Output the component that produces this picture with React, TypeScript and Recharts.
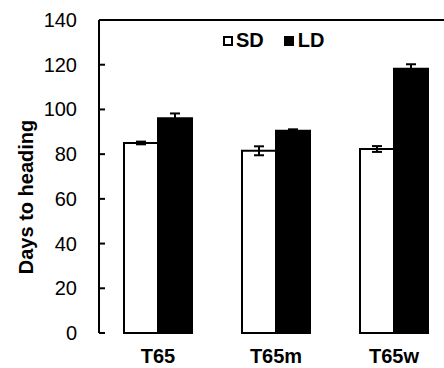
import { BarChart, Bar, XAxis, YAxis, ErrorBar, Legend, ReferenceLine } from "recharts";

const categories = ["T65", "T65m", "T65w"];
const sdValues = [85, 81.5, 82.3];
const sdErrors = [0.6, 2, 1.3];
const ldValues = [96, 90.5, 118.2];
const ldErrors = [2.2, 0.6, 2];
const yTicks = [0, 20, 40, 60, 80, 100, 120, 140];

const data = categories.map((name, i) => ({
  name,
  sd: sdValues[i],
  sdErr: sdErrors[i],
  ld: ldValues[i],
  ldErr: ldErrors[i],
}));

// y tick: label on the left, short tick line pointing into the plot
const YTick = (props: any) => {
  const { x, y, payload } = props;
  return (
    <g>
      <line x1={x + 22} x2={x + 28} y1={y} y2={y} stroke="#000" strokeWidth={2} />
      <text x={x} y={y} dy={7} textAnchor="end" fontSize={20} fill="#000">
        {payload.value}
      </text>
    </g>
  );
};

const LegendBox = () => (
  <div
    style={{
      display: "flex",
      alignItems: "center",
      fontWeight: "bold",
      fontSize: 20,
      color: "#000",
      whiteSpace: "nowrap",
      width: 120,
    }}
  >
    <span style={{ width: 10, height: 10, border: "2px solid #000", background: "#fff", boxSizing: "border-box" }} />
    <span style={{ marginLeft: 3 }}>SD</span>
    <span style={{ width: 10, height: 10, background: "#000", marginLeft: 20 }} />
    <span style={{ marginLeft: 4 }}>LD</span>
  </div>
);

export default function App() {
  return (
    <div
      style={{
        position: "absolute",
        left: 0,
        top: 0,
        width: 444,
        height: 368,
        overflow: "hidden",
        background: "#fff",
        fontFamily: "'Liberation Sans', Arial, sans-serif",
      }}
    >
      <BarChart
        width={470}
        height={368}
        data={data}
        margin={{ top: 20, right: 17, bottom: 0, left: 0 }}
        barCategoryGap={25}
        barGap={0}
      >
        <XAxis
          xAxisId="frame"
          type="number"
          domain={[0, 3]}
          ticks={[0, 1, 2, 3]}
          tick={false}
          height={0}
          axisLine={{ stroke: "#000", strokeWidth: 2 }}
          tickLine={{ stroke: "#000", strokeWidth: 2 }}
          tickSize={5}
        />
        <XAxis
          dataKey="name"
          axisLine={false}
          tickLine={false}
          tickSize={0}
          tickMargin={16}
          height={35}
          tick={{ fontSize: 20, fontWeight: "bold", fill: "#000" }}
        />
        <YAxis
          domain={[0, 140]}
          ticks={yTicks}
          width={99}
          tickSize={0}
          tickMargin={22}
          tickLine={false}
          axisLine={{ stroke: "#000", strokeWidth: 2 }}
          tick={<YTick />}
          label={{
            content: () => (
              <text
                transform="translate(26,197) rotate(-90)"
                textAnchor="middle"
                dominantBaseline="central"
                fontSize={20}
                fontWeight="bold"
                fill="#000"
              >
                Days to heading
              </text>
            ),
          }}
        />
        <ReferenceLine y={140} stroke="#000" strokeWidth={2} />
        <Legend
          verticalAlign="top"
          content={<LegendBox />}
          wrapperStyle={{ position: "absolute", top: 29, left: 223, width: 0, height: 0, overflow: "visible" }}
        />
        <Bar dataKey="sd" name="SD" fill="#fff" stroke="#000" strokeWidth={2} isAnimationActive={false}>
          <ErrorBar dataKey="sdErr" width={5} stroke="#000" strokeWidth={2} />
        </Bar>
        <Bar dataKey="ld" name="LD" fill="#000" stroke="#000" strokeWidth={2} isAnimationActive={false}>
          <ErrorBar dataKey="ldErr" width={5} stroke="#000" strokeWidth={2} />
        </Bar>
      </BarChart>
    </div>
  );
}
